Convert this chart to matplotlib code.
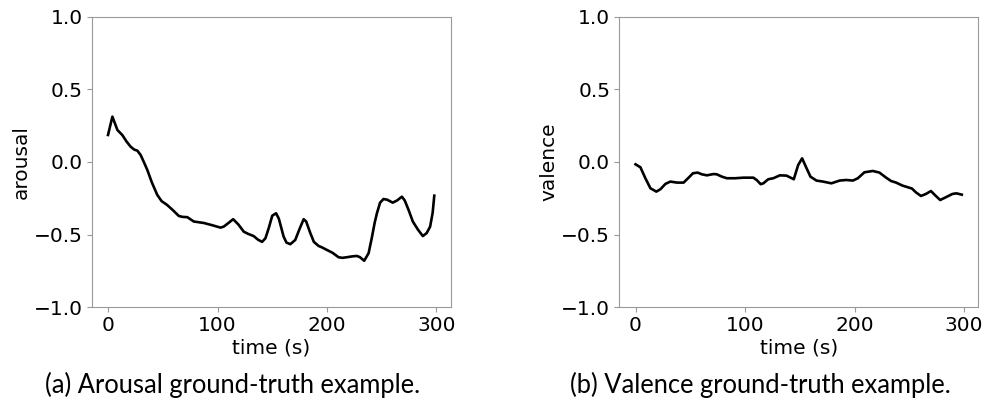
import matplotlib
matplotlib.use("Agg")
import matplotlib.pyplot as plt

# arousal trace
arousal_t = [0, 4, 8.6, 13, 17, 20.7, 24, 26.8, 29.8, 33, 35.9, 40, 45, 49, 54, 59,
             64.7, 68, 72.4, 78.4, 83, 87.5, 95, 102.7, 105.7, 110, 114.3, 119, 124,
             128, 133, 137, 140.7, 143.8, 147, 150, 153.5, 156, 160.4, 163, 166.5,
             171, 175, 178.7, 181, 184.8, 188, 192.3, 196, 200, 205, 210.6, 214,
             218, 223, 227.3, 230, 234, 238, 241, 243.5, 245.6, 248.5, 251.6, 255,
             260, 264, 268.4, 271, 274.5, 278.4, 283, 287.5, 291, 294.2, 296.5, 298]
arousal = [0.186, 0.312, 0.22, 0.186, 0.14, 0.105, 0.085, 0.078, 0.048, -0.005, -0.055,
           -0.14, -0.227, -0.27, -0.296, -0.33, -0.372, -0.378, -0.38, -0.41, -0.415,
           -0.42, -0.435, -0.452, -0.445, -0.42, -0.394, -0.43, -0.48, -0.495, -0.51,
           -0.535, -0.55, -0.525, -0.45, -0.37, -0.353, -0.39, -0.514, -0.555, -0.566,
           -0.537, -0.46, -0.394, -0.41, -0.49, -0.55, -0.578, -0.59, -0.606, -0.625,
           -0.656, -0.66, -0.656, -0.65, -0.647, -0.655, -0.68, -0.628, -0.52, -0.42,
           -0.353, -0.28, -0.255, -0.26, -0.28, -0.265, -0.239, -0.265, -0.33, -0.41,
           -0.465, -0.51, -0.49, -0.445, -0.35, -0.232]

# valence trace
valence_t = [0, 4.5, 9, 13.6, 19, 22.7, 27.3, 31.8, 37.9, 43.9, 48.5, 52.4, 56.6, 60.6,
             65.2, 71.2, 74.2, 78.8, 83.4, 90.9, 98.5, 107.6, 110.6, 114.3, 116.7,
             121.2, 125.8, 131.8, 137.9, 144.5, 148.5, 152.1, 155.5, 159.7, 165.2,
             171.2, 178.8, 186.4, 192.4, 198.5, 203, 209, 216.7, 222.7, 228.8, 233.3,
             237.9, 243.9, 252.4, 256, 260.6, 265.2, 269.7, 274.2, 278.2, 283.3, 289.4,
             293, 297.9]
valence = [-0.016, -0.037, -0.112, -0.181, -0.204, -0.188, -0.151, -0.135, -0.142,
           -0.142, -0.108, -0.078, -0.073, -0.085, -0.092, -0.083, -0.085, -0.101,
           -0.112, -0.112, -0.108, -0.108, -0.124, -0.153, -0.147, -0.119, -0.112,
           -0.092, -0.094, -0.119, -0.021, 0.025, -0.032, -0.101, -0.128, -0.135,
           -0.147, -0.128, -0.124, -0.128, -0.112, -0.071, -0.062, -0.073, -0.108,
           -0.131, -0.142, -0.163, -0.183, -0.209, -0.234, -0.22, -0.2, -0.234,
           -0.262, -0.243, -0.22, -0.216, -0.225]

panels = [
    (arousal_t, arousal, "arousal", "(a) Arousal ground-truth example."),
    (valence_t, valence, "valence", "(b) Valence ground-truth example."),
]

fig = plt.figure(figsize=(9.86, 4.08), dpi=100)
lefts = [0.093, 0.628]

for left, (t, v, ylab, cap) in zip(lefts, panels):
    ax = fig.add_axes([left, 0.247, 0.364, 0.712])
    ax.plot(t, v, color="black", lw=1.9)
    ax.set_ylim(-1.0, 1.0)
    ax.set_yticks([-1.0, -0.5, 0.0, 0.5, 1.0])
    ax.set_xticks([0, 100, 200, 300])
    ax.set_xlabel("time (s)", fontsize=14.5, labelpad=2)
    ax.set_ylabel(ylab, fontsize=14.5, labelpad=2)
    ax.tick_params(labelsize=14.5, color="#999999", pad=3)
    for s in ax.spines.values():
        s.set_color("#999999")
        s.set_linewidth(0.8)
    # caption sits a bit left of the axes centre
    fig.text(left + 0.143, 0.057, cap, ha="center", va="center",
             fontsize=18.4, family="Lato")

fig.savefig("out.png", dpi=100)
